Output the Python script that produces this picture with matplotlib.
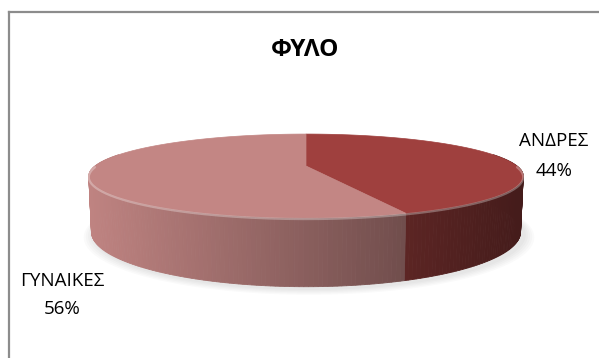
import numpy as np
import matplotlib
matplotlib.use("Agg")
import matplotlib.pyplot as plt
from matplotlib.colors import to_rgb

# Data
labels = ["ΑΝΔΡΕΣ", "ΓΥΝΑΙΚΕΣ"]
shares = [44, 56]
top_colors = ["#9f403e", "#c38684"]
title = "ΦΥΛΟ"

# Figure in pixel coordinates
W, H = 599, 358
fig = plt.figure(figsize=(W / 100, H / 100), dpi=100)
ax = fig.add_axes([0, 0, 1, 1])
ax.set_xlim(0, W)
ax.set_ylim(H, 0)
ax.axis("off")

# Simple perspective camera looking down on a flat cylinder
elev = np.radians(10.8)
dist = 4.13
thick = 0.26
cx, cy, scale = 306.0, 166.0, 211.0


def project(t, z):
    X, Y = np.cos(t), np.sin(t)
    depth = dist + Y * np.cos(elev) - z * np.sin(elev)
    u = X * dist / depth
    v = (Y * np.sin(elev) + z * np.cos(elev)) * dist / depth
    return cx + scale * u, cy - scale * v, depth


# Slice angles: start at 12 o'clock, go clockwise
fracs = np.array(shares, dtype=float) / sum(shares)
bounds = np.radians(90 - 360 * np.concatenate([[0], np.cumsum(fracs)]))

# Soft shadow under the pie
tt = np.linspace(0, 2 * np.pi, 200)
for k in range(5):
    sx, sy, _ = project(tt, -thick)
    grow = 1 + 0.01 * (k + 1)
    ax.fill(cx + (sx - cx) * grow + 3, cy + (sy - cy) * grow + 2,
            color="#808080", alpha=0.04, lw=0, zorder=1)

# Side wall strips, shaded left-to-right
xmin, xmax = cx - 217, cx + 217
strips = []
for i, (a0, a1) in enumerate(zip(bounds[:-1], bounds[1:])):
    n = max(int(abs(a1 - a0) / np.radians(1.0)), 2)
    ts = np.linspace(a0, a1, n + 1)
    base = np.array(to_rgb(top_colors[i]))
    for t0, t1 in zip(ts[:-1], ts[1:]):
        tm = 0.5 * (t0 + t1)
        if np.sin(tm) > 0.3:
            continue
        x0, y0, d0 = project(t0, 0)
        x1, y1, d1 = project(t1, 0)
        x2, y2, _ = project(t1, -thick)
        x3, y3, _ = project(t0, -thick)
        un = np.clip((0.5 * (x0 + x1) - xmin) / (xmax - xmin), 0, 1)
        shade = 0.98 - 0.55 * un
        col = np.clip(base * shade, 0, 1)
        strips.append((0.5 * (d0 + d1), [x0, x1, x2, x3], [y0, y1, y2, y3], col))

for d, xs, ys, col in sorted(strips, key=lambda s: -s[0]):
    ax.fill(xs, ys, color=col, lw=0.6, ec=col, zorder=2)

# Top faces
for i, (a0, a1) in enumerate(zip(bounds[:-1], bounds[1:])):
    ts = np.linspace(a0, a1, 200)
    px, py, _ = project(ts, 0)
    ax.fill(np.concatenate([[cx], px]), np.concatenate([[cy], py]),
            color=top_colors[i], lw=0.5, ec=top_colors[i], zorder=3)

# Light bevel along the front rim
ts = np.linspace(np.pi, 2 * np.pi, 200)
rx, ry, _ = project(ts, 0)
ax.plot(rx, ry + 1.2, color="white", alpha=0.3, lw=1.6, zorder=4,
        solid_capstyle="round")

# Labels
font = ["Open Sans", "DejaVu Sans"]
ax.text(305, 50, title, ha="center", va="center", fontsize=17.5,
        fontweight="bold", family=font, color="black")
label_pos = [(554, 141, 171), (62, 281, 309)]
for lab, val, (lx, ly1, ly2) in zip(labels, shares, label_pos):
    ax.text(lx, ly1, lab, ha="center", va="center", fontsize=13.5,
            family=font, color="black")
    ax.text(lx, ly2, f"{val}%", ha="center", va="center", fontsize=13.5,
            family=font, color="black")

# Chart area border (left and top edges)
ax.plot([8.5, 8.5], [H, 11.5], color="#8c8c8c", lw=1.6, zorder=5)
ax.plot([8.5, W], [11.5, 11.5], color="#8c8c8c", lw=1.6, zorder=5)

fig.savefig("out.png", dpi=100)
